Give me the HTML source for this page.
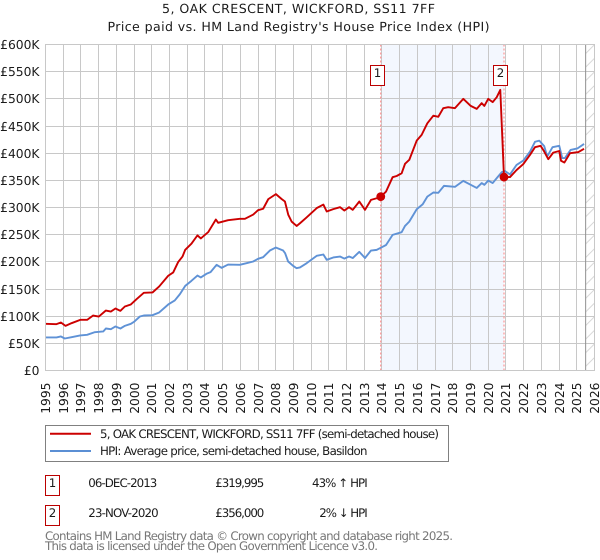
<!DOCTYPE html>
<html>
<head>
<meta charset="utf-8">
<title>5, Oak Crescent, Wickford price chart</title>
<style>
html,body{margin:0;padding:0;background:#fff;width:600px;height:560px;overflow:hidden}
svg{display:block}
text{font-family:"DejaVu Sans","Liberation Sans",sans-serif;fill:#1a1a1a;text-rendering:geometricPrecision}
</style>
</head>
<body>
<svg id="chart" xmlns="http://www.w3.org/2000/svg" width="600" height="560" viewBox="0 0 600 560">
<defs>
<pattern id="hatch" patternUnits="userSpaceOnUse" width="13.6" height="13.6">
<line x1="0" y1="13.6" x2="13.6" y2="0" stroke="#cfcfcf" stroke-width="0.8"/>
</pattern>
</defs>
<text x="298.5" y="13" font-size="12.6" text-anchor="middle" textLength="273">5, OAK CRESCENT, WICKFORD, SS11 7FF</text>
<text x="298.5" y="31" font-size="12.6" text-anchor="middle" textLength="382">Price paid vs. HM Land Registry's House Price Index (HPI)</text>
<g id="plot"></g>

<rect x="45.5" y="425.5" width="403" height="36" fill="#fff" stroke="#808080" stroke-width="1"/>
<line x1="50" x2="91" y1="433.7" y2="433.7" stroke="#cc0000" stroke-width="2"/>
<line x1="50" x2="91" y1="451" y2="451" stroke="#5b8fd4" stroke-width="2"/>
<text x="100" y="438" font-size="11.8" textLength="339">5, OAK CRESCENT, WICKFORD, SS11 7FF (semi-detached house)</text>
<text x="100" y="455" font-size="11.8" textLength="267.5">HPI: Average price, semi-detached house, Basildon</text>

<rect x="45.5" y="475.5" width="14" height="20" fill="#fff" stroke="#bb0000" stroke-width="1"/>
<text x="52.5" y="487" font-size="11.8" text-anchor="middle">1</text>
<text x="88.3" y="487" font-size="11.8" textLength="69">06-DEC-2013</text>
<text x="215.3" y="487" font-size="11.8" textLength="49">£319,995</text>
<text x="312" y="487" font-size="11.8" textLength="55.7">43% ↑ HPI</text>

<rect x="45.5" y="505.5" width="14" height="20" fill="#fff" stroke="#bb0000" stroke-width="1"/>
<text x="52.5" y="517" font-size="11.8" text-anchor="middle">2</text>
<text x="88.3" y="517" font-size="11.8" textLength="70.4">23-NOV-2020</text>
<text x="215.3" y="517" font-size="11.8" textLength="49">£356,000</text>
<text x="319.3" y="517" font-size="11.8" textLength="48.4">2% ↓ HPI</text>

<text x="45" y="540" font-size="11.8" textLength="408" style="fill:#777">Contains HM Land Registry data © Crown copyright and database right 2025.</text>
<text x="45" y="550" font-size="11.8" textLength="333" style="fill:#777">This data is licensed under the Open Government Licence v3.0.</text>
</svg>
<script>
const xTickYears = [1995,1996,1997,1998,1999,2000,2001,2002,2003,2004,2005,2006,2007,2008,2009,2010,2011,2012,2013,2014,2015,2016,2017,2018,2019,2020,2021,2022,2023,2024,2025,2026];
const yTickValues = [0,50,100,150,200,250,300,350,400,450,500,550,600];
const yTickLabels = ['£0','£50K','£100K','£150K','£200K','£250K','£300K','£350K','£400K','£450K','£500K','£550K','£600K'];
const hpiYears = [1995,1995.62,1995.87,1996.09,1996.47,1996.96,1997.35,1997.79,1998.26,1998.41,1998.69,1998.95,1999.23,1999.48,1999.82,2000,2000.33,2000.55,2001.04,2001.42,2001.93,2002.3,2002.59,2002.89,2003.24,2003.58,2003.77,2004.09,2004.32,2004.66,2004.94,2005.31,2005.97,2006.35,2006.73,2007,2007.29,2007.67,2008,2008.42,2008.53,2008.7,2008.98,2009.17,2009.37,2009.75,2010.31,2010.69,2010.88,2011.25,2011.63,2011.87,2012.14,2012.35,2012.72,2013.04,2013.38,2013.7,2013.94,2014.23,2014.6,2015.11,2015.3,2015.54,2015.96,2016.3,2016.56,2016.9,2017.18,2017.5,2018.12,2018.59,2019.01,2019.35,2019.63,2019.78,2020,2020.25,2020.48,2020.76,2020.95,2021.23,2021.6,2021.98,2022.36,2022.64,2022.88,2023.16,2023.33,2023.63,2024.01,2024.18,2024.33,2024.65,2025.03,2025.41];
const hpiValues = [60.8,60.8,62.6,58.9,61.4,64.5,65.7,70.6,71.8,77.3,76,81,77.3,82.2,85.9,89.6,99.4,101.2,101.8,106.8,121.5,128.9,140.5,155.8,165,174.8,171.2,178,181,194.5,188.9,195,194.5,197.5,200.6,205.5,208.6,220.8,226.3,220.8,215.9,200.6,192.7,188.4,189.6,197.6,211,213.5,203.7,208,209.8,206,209.8,207,218.4,207,220.8,222,226,231,249.6,254.5,266,274,296.8,306,320,327.6,327,339.8,338,349,341.7,336,345,341.7,349.6,345,354,365,367,360.8,378.4,386.3,403,421,423,413,394,411,413.5,391,391,406,408.6,417];
const priceYears = [1995,1995.62,1995.87,1996.13,1996.47,1996.96,1997.35,1997.69,1998.01,1998.41,1998.69,1998.95,1999.23,1999.48,1999.82,2000.14,2000.55,2001.04,2001.42,2001.93,2002.21,2002.49,2002.74,2002.89,2003.24,2003.58,2003.77,2004.19,2004.62,2004.75,2005.31,2005.97,2006.26,2006.73,2007,2007.29,2007.58,2008.01,2008.34,2008.52,2008.71,2008.9,2009.18,2009.37,2009.75,2010.31,2010.69,2010.88,2011.25,2011.63,2011.87,2012.14,2012.35,2012.72,2013.04,2013.38,2013.7,2013.93,2014.23,2014.6,2014.83,2015.11,2015.3,2015.54,2015.96,2016.24,2016.56,2016.9,2017.18,2017.46,2017.74,2018.12,2018.59,2019.01,2019.35,2019.63,2019.78,2020,2020.25,2020.48,2020.68,2020.89,2021.23,2021.6,2021.98,2022.36,2022.64,2022.96,2023.16,2023.39,2023.67,2024.01,2024.11,2024.3,2024.62,2025.09,2025.41];
const priceValues = [85.9,85.3,88.4,82.2,87.1,93.2,93.2,101.2,99.3,110.4,108.5,114.1,109.8,117.8,121.5,131.3,143,143.6,154.7,174.4,180.5,199.6,210,222.2,233.3,248.7,243.1,254.8,277.9,271.8,276.7,279.2,279.2,287,295,297.7,315.4,324.6,315.4,311,286.5,274,266,271,282,298.8,305.4,292.6,297,300.6,294.4,300.6,295.7,311,295.7,314,317,320,329.4,355.8,358,363,380.3,387.7,423,433.7,455,469,467,482.8,484.6,482.8,500,487,481.5,492,487,500,494,503,516.5,356,356,369,380,397,411,413.5,403,389,401,404,386,382.7,400,402,408];
const saleLabels = ['1','2'];
const saleYears = [2013.93,2020.89];
const saleValues = [319.995,356];
const forecastStartYear = 2025.5;
const xDomain = [1995,2026];
const yDomain = [0,600];

const plotLeft = 45.5, plotRight = 594.5, plotTop = 44.5, plotBottom = 370.5;
const NS = 'http://www.w3.org/2000/svg';
const plot = document.getElementById('plot');
function xScale(year){ return plotLeft + (year - xDomain[0]) / (xDomain[1] - xDomain[0]) * (plotRight - plotLeft); }
function yScale(value){ return plotBottom - (value - yDomain[0]) / (yDomain[1] - yDomain[0]) * (plotBottom - plotTop); }
function crisp(v){ return Math.floor(v) + 0.5; }
function make(tag, attrs, text){
  const el = document.createElementNS(NS, tag);
  for (const k in attrs) el.setAttribute(k, attrs[k]);
  if (text !== undefined) el.textContent = text;
  plot.appendChild(el);
  return el;
}

const band = make('rect', {x:xScale(saleYears[0]), y:plotTop, width:xScale(saleYears[1])-xScale(saleYears[0]), height:plotBottom-plotTop, fill:'#f3f7fe'});



const hatch = make('rect', {x:xScale(forecastStartYear), y:plotTop, width:plotRight-xScale(forecastStartYear), height:plotBottom-plotTop, fill:'url(#hatch)'});



xTickYears.forEach(function(year){
  const px = crisp(xScale(year));
  const grid = make('line', {x1:px, x2:px, y1:plotTop, y2:plotBottom, stroke:'#c8c8c8', 'stroke-width':1});
  
  
  const label = make('text', {x:0, y:0, 'font-size':12.3, 'text-anchor':'end', transform:'translate(' + (px + 4.5) + ',382.5) rotate(-90)'}, String(year));
  
  
});

yTickValues.forEach(function(value, i){
  const py = crisp(yScale(value));
  const grid = make('line', {x1:plotLeft, x2:plotRight, y1:py, y2:py, stroke:'#c8c8c8', 'stroke-width':1});
  
  
  const label = make('text', {x:39.5, y:py + 4.5, 'font-size':12.3, 'text-anchor':'end'}, yTickLabels[i]);
  
  
});

const cutoff = make('line', {x1:xScale(forecastStartYear), x2:xScale(forecastStartYear), y1:plotTop, y2:plotBottom, stroke:'#909090', 'stroke-width':1});



saleYears.forEach(function(year){
  const px = xScale(year);
  const rule = make('line', {x1:px, x2:px, y1:plotTop, y2:plotBottom, stroke:'#ff8080', 'stroke-width':1, 'stroke-dasharray':'2 2'});
  
  
});

function pathFrom(years, values){
  return years.map(function(y, i){ return (i ? 'L' : 'M') + xScale(y).toFixed(2) + ' ' + yScale(values[i]).toFixed(2); }).join('');
}
const hpiLine = make('path', {d:pathFrom(hpiYears, hpiValues), fill:'none', stroke:'#5f92d6', 'stroke-width':1.9, 'stroke-linejoin':'round'});


const priceLine = make('path', {d:pathFrom(priceYears, priceValues), fill:'none', stroke:'#cc0000', 'stroke-width':1.9, 'stroke-linejoin':'round'});



saleYears.forEach(function(year, i){
  const dot = make('circle', {cx:xScale(year), cy:yScale(saleValues[i]), r:4.4, fill:'#cc0000'});
  
  
  const box = make('rect', {x:Math.round(xScale(year)) - 10.5, y:65.5, width:14, height:20, fill:'#fff', stroke:'#bb0000', 'stroke-width':1});
  
  
  const num = make('text', {x:Math.round(xScale(year)) - 3.5, y:77, 'font-size':11.8, 'text-anchor':'middle'}, saleLabels[i]);
  
  
});

const frame = make('rect', {x:plotLeft, y:plotTop, width:plotRight-plotLeft, height:plotBottom-plotTop, fill:'none', stroke:'#c8c8c8', 'stroke-width':1});


</script>
</body>
</html>
